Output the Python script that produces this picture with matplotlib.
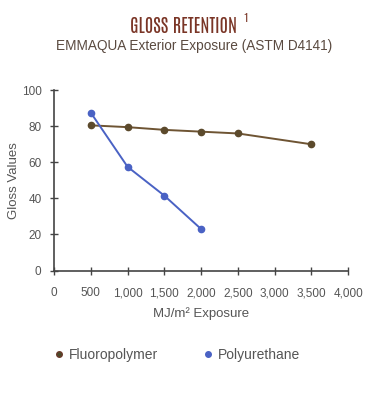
import matplotlib
matplotlib.use("Agg")
import matplotlib.pyplot as plt
from matplotlib.lines import Line2D

# data
exposure_fluoro = [500, 1000, 1500, 2000, 2500, 3500]
gloss_fluoro = [80.5, 79.5, 78, 77, 76, 70]
exposure_pu = [500, 1000, 1500, 2000]
gloss_pu = [87.5, 57.5, 41.5, 23]
xticks = [0, 500, 1000, 1500, 2000, 2500, 3000, 3500, 4000]
xtick_labels = ["0", "500", "1,000", "1,500", "2,000", "2,500", "3,000", "3,500", "4,000"]
yticks = [0, 20, 40, 60, 80, 100]

BROWN = "#6e5433"
BROWN_MK = "#5c4a2c"
BLUE = "#4a62c4"
GREY = "#555555"
TITLE_RED = "#7a3526"

plt.rcParams["font.family"] = ["Liberation Sans", "DejaVu Sans"]

fig = plt.figure(figsize=(3.89, 3.99), dpi=100)
ax = fig.add_axes([0.139, 0.322, 0.756, 0.452])

ax.plot(exposure_fluoro, gloss_fluoro, color=BROWN, lw=1.4, marker="o",
        ms=4.5, mfc=BROWN_MK, mec=BROWN_MK)
ax.plot(exposure_pu, gloss_pu, color=BLUE, lw=1.4, marker="o",
        ms=4.5, mfc=BLUE, mec=BLUE)

ax.set_xlim(0, 4000)
ax.set_ylim(0, 100)
ax.set_xticks(xticks)
ax.set_xticklabels(xtick_labels)
ax.set_yticks(yticks)

for s in ["top", "right"]:
    ax.spines[s].set_visible(False)
for s in ["left", "bottom"]:
    ax.spines[s].set_color("#444444")
    ax.spines[s].set_linewidth(1.2)

ax.tick_params(axis="x", direction="inout", length=6, width=1, color="#444444",
               labelsize=8.5, labelcolor=GREY, pad=9)
ax.tick_params(axis="y", direction="inout", length=6, width=1, color="#444444",
               labelsize=8.5, labelcolor=GREY, pad=6)

ax.set_xlabel("MJ/m² Exposure", fontsize=9.5, color=GREY, labelpad=6)
ax.set_ylabel("Gloss Values", fontsize=9.5, color=GREY, labelpad=1)

# titles (condensed heading font)
fig.text(130 / 389, 0.9165, "GLOSS RETENTION", ha="left", va="baseline",
         fontsize=13.3, fontweight="bold", color=TITLE_RED,
         family=["Antonio", "Oswald", "DejaVu Sans"])
fig.text(243 / 389, 0.945, "1", ha="left", va="baseline", fontsize=8,
         fontweight="bold", color=TITLE_RED,
         family=["Antonio", "Oswald", "DejaVu Sans"])
fig.text(0.5, 0.875, "EMMAQUA Exterior Exposure (ASTM D4141)", ha="center",
         va="baseline", fontsize=9.8, color="#5a4a40")

handles = [
    Line2D([], [], ls="none", marker="o", ms=4, mfc="#4a4a2a", mec="#6a3a2a"),
    Line2D([], [], ls="none", marker="o", ms=4, mfc=BLUE, mec=BLUE),
]
leg = fig.legend(handles, ["Fluoropolymer", "Polyurethane"], loc="center left",
                 bbox_to_anchor=(0.105, 0.11), ncol=2, frameon=False,
                 fontsize=10, handlelength=0.8, handletextpad=0.3,
                 columnspacing=3.2)
for t in leg.get_texts():
    t.set_color(GREY)

fig.savefig("out.png", dpi=100)
